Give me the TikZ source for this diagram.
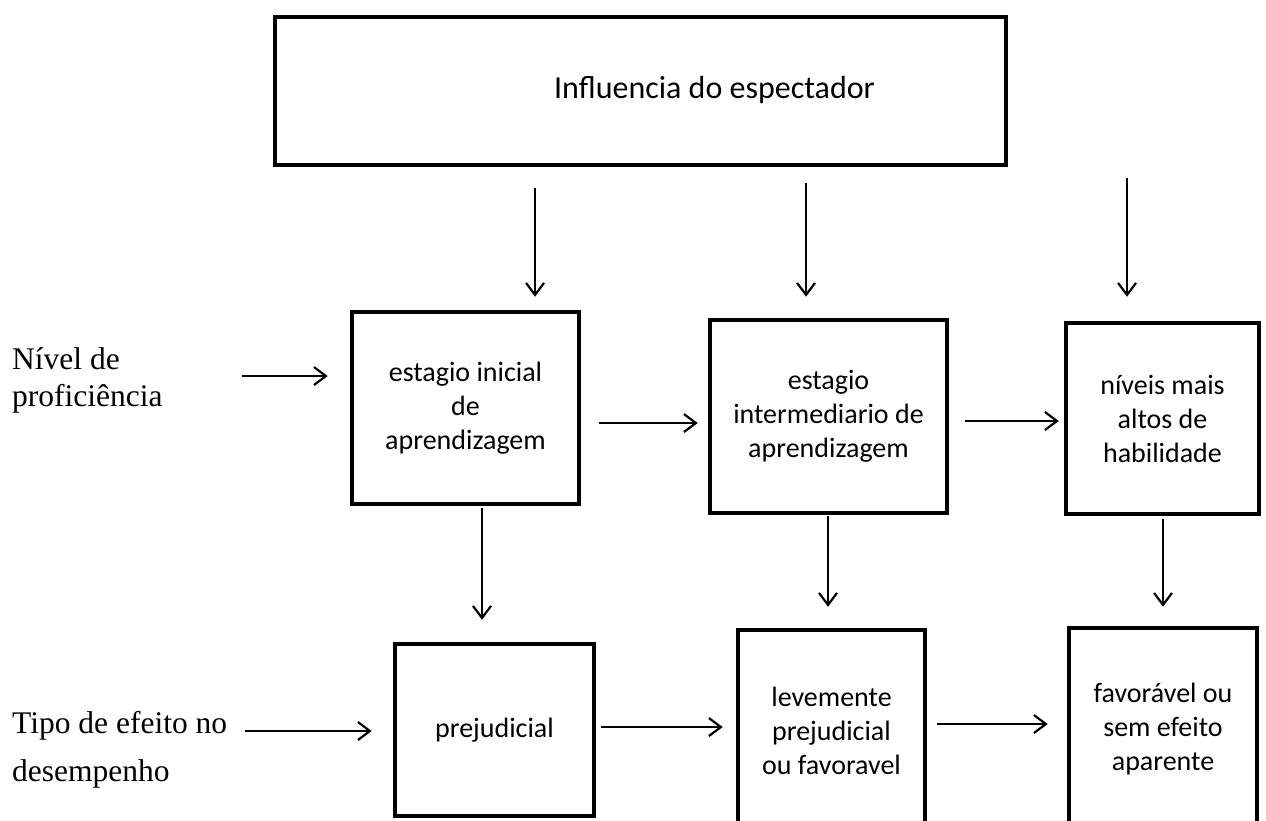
\documentclass[tikz,border=0pt]{standalone}
\usepackage{fontspec}
\setmainfont{Liberation Serif}
\newfontfamily\boxfont{Carlito}
\usetikzlibrary{arrows.meta}
\tikzset{
  box/.style={draw, line width=4.5pt, inner sep=0pt, align=center,
    font=\boxfont\fontsize{28}{34}\selectfont},
  toptext/.style={font=\boxfont\fontsize{32}{38}\selectfont},
  sidelabel/.style={anchor=west, align=left, inner sep=0pt},
  arr/.style={line width=2.2pt, -{Straight Barb[length=12pt,width=18pt,line width=2.2pt]}}
}
\begin{document}
\begin{tikzpicture}[x=1pt,y=-1pt]
\useasboundingbox (0,0) rectangle (1266,820);

% boxes
\node[box, minimum width=731pt, minimum height=148pt,
      label={[toptext, xshift=74pt, yshift=1pt]center:Influencia do espectador}] (top) at (640.5,91) {};
\node[box, minimum width=227pt, minimum height=192pt] (b1) at (465.5,408) {estagio inicial\\de\\aprendizagem};
\node[box, minimum width=237pt, minimum height=193pt] (b2) at (828.5,416.5) {estagio\\intermediario de\\aprendizagem};
\node[box, minimum width=193pt, minimum height=191pt] (b3) at (1162.5,418.5) {níveis mais\\altos de\\habilidade};
\node[box, minimum width=199pt, minimum height=172pt] (b4) at (494.5,730) {prejudicial};
\node[box, minimum width=187pt, minimum height=201pt] (b5) at (831.5,730.5) {levemente\\prejudicial\\ou favoravel};
\node[box, minimum width=188pt, minimum height=203pt] (b6) at (1163,729.5) {favorável ou\\sem efeito\\aparente};

% side labels
\node[sidelabel, font=\fontsize{31.5}{37}\selectfont] (l1) at (12,380) {Nível de\\proficiência};
\node[sidelabel, font=\fontsize{31.5}{48}\selectfont] (l2) at (12,750) {Tipo de efeito no\\desempenho};

% reference coordinates for arrow lines
\coordinate (d1) at (535,0);
\coordinate (d2) at (806,0);
\coordinate (d3) at (1127,0);
\coordinate (d4) at (482,0);
\coordinate (d5) at (828,0);
\coordinate (d6) at (1163,0);
\coordinate (s1) at (242,376);
\coordinate (h2) at (0,423);
\coordinate (h3) at (0,421);
\coordinate (s4) at (245,731);
\coordinate (h5) at (0,727);
\coordinate (h6) at (0,724);

% top to row 2
\draw[arr, shorten <=21pt, shorten >=13pt] (top.south -| d1) -- (b1.north -| d1);
\draw[arr, shorten <=16pt, shorten >=21pt] (top.south -| d2) -- (b2.north -| d2);
\draw[arr, shorten <=11pt, shorten >=24pt] (top.south -| d3) -- (b3.north -| d3);

% row 2 to row 3
\draw[arr, shorten <=2pt, shorten >=22pt] (b1.south -| d4) -- (b4.north -| d4);
\draw[arr, shorten <=1pt, shorten >=21pt] (b2.south -| d5) -- (b5.north -| d5);
\draw[arr, shorten <=3pt, shorten >=19pt] (b3.south -| d6) -- (b6.north -| d6);

% horizontal arrows
\draw[arr, shorten >=22pt] (s1) -- (b1.west |- s1);
\draw[arr, shorten <=18pt, shorten >=10pt] (b1.east |- h2) -- (b2.west |- h2);
\draw[arr, shorten <=16pt, shorten >=5pt] (b2.east |- h3) -- (b3.west |- h3);
\draw[arr, shorten >=21pt] (s4) -- (b4.west |- s4);
\draw[arr, shorten <=5pt, shorten >=13pt] (b4.east |- h5) -- (b5.west |- h5);
\draw[arr, shorten <=10pt, shorten >=19pt] (b5.east |- h6) -- (b6.west |- h6);
\end{tikzpicture}
\end{document}
